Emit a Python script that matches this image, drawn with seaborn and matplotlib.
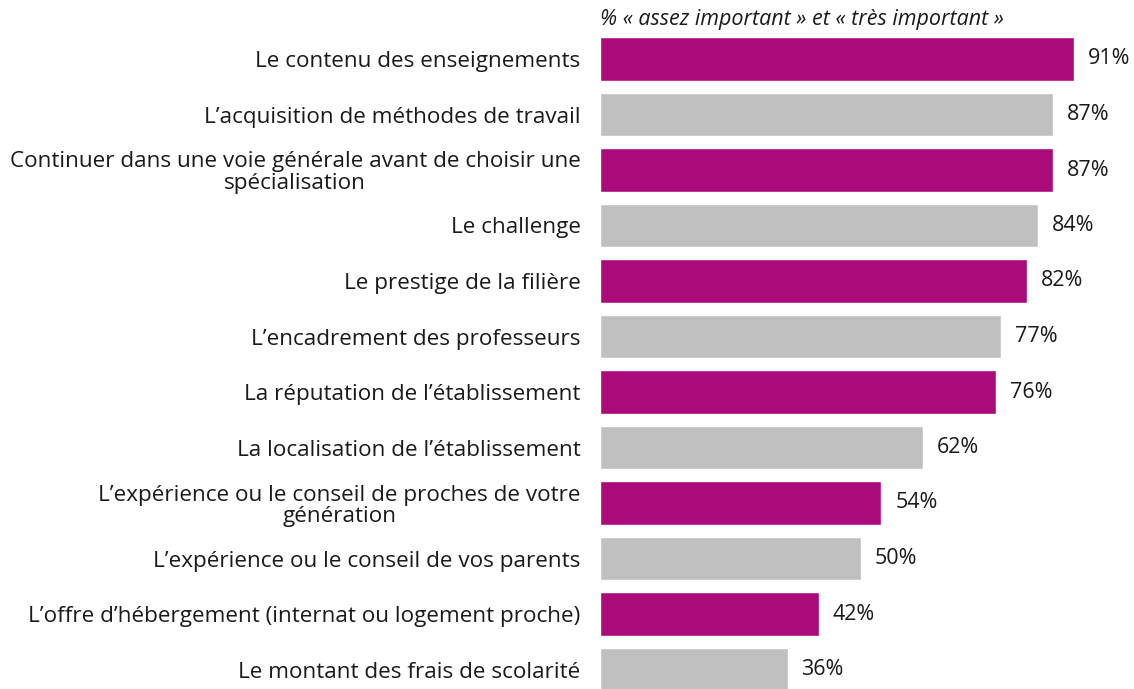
import matplotlib
matplotlib.use("Agg")
import matplotlib.pyplot as plt
import seaborn as sns
import pandas as pd

sns.set_style("white")
plt.rcParams['font.family'] = ['Open Sans', 'DejaVu Sans']

# Data
categories = [
    "Le contenu des enseignements",
    "L’acquisition de méthodes de travail",
    "Continuer dans une voie générale avant de choisir une\nspécialisation",
    "Le challenge",
    "Le prestige de la filière",
    "L’encadrement des professeurs",
    "La réputation de l’établissement",
    "La localisation de l’établissement",
    "L’expérience ou le conseil de proches de votre\ngénération",
    "L’expérience ou le conseil de vos parents",
    "L’offre d’hébergement (internat ou logement proche)",
    "Le montant des frais de scolarité",
]
values = [91, 87, 87, 84, 82, 77, 76, 62, 54, 50, 42, 36]
title = "% « assez important » et « très important »"

magenta = "#AB0A7A"
grey = "#C0C0C0"
colors = [magenta if i % 2 == 0 else grey for i in range(len(categories))]

df = pd.DataFrame({"item": categories, "pct": values})

fig = plt.figure(figsize=(11.34, 6.89), dpi=100)
ax = fig.add_axes([600 / 1134, 0, 521 / 1134, 1])

sns.barplot(data=df, x="pct", y="item", hue="item", palette=colors,
            legend=False, width=0.78, saturation=1, ax=ax, orient="h")

ax.set_xlim(0, 100)
ax.set_ylim((689 - 59) / 55.5, -59 / 55.5)
ax.set_xlabel("")
ax.set_ylabel("")
ax.set_xticks([])
for s in ax.spines.values():
    s.set_visible(False)
ax.tick_params(axis="y", length=0, pad=14, labelsize=16.2, labelcolor="#1a1a1a")
for lab in ax.get_yticklabels():
    lab.set_multialignment("center")
    lab.set_linespacing(1.05)

for i, v in enumerate(values):
    ax.annotate(f"{v}%", xy=(v, i), xytext=(10, 0), textcoords="offset points",
                ha="left", va="center", fontsize=15.5, color="#1a1a1a")

fig.text(600 / 1134, 1 - 20 / 689, title, ha="left", va="center",
         fontsize=15.5, style="italic", color="#1a1a1a")

fig.savefig("out.png", dpi=100)
